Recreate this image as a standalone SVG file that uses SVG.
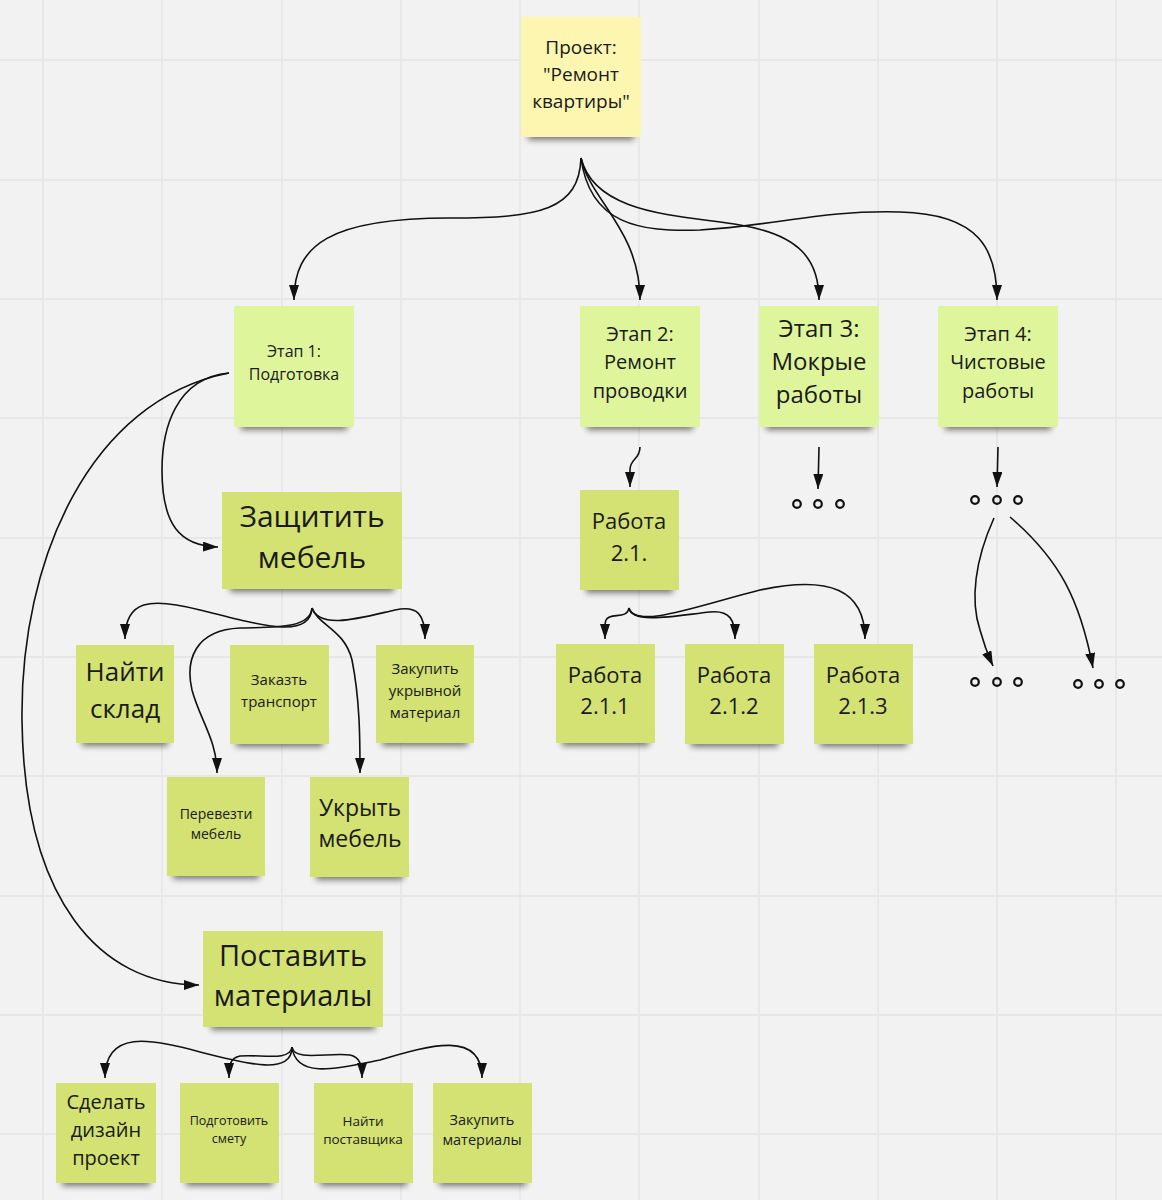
<svg xmlns="http://www.w3.org/2000/svg" width="1162" height="1200" viewBox="0 0 1162 1200">
<defs>
<style>
.bg{fill:#f2f2f2}
.grid{stroke:#e7e7e7;stroke-width:1.8;fill:none}
.c{fill:none;stroke:#111;stroke-width:1.6}
.y{fill:#fcf6b1}
.s{fill:#dff59c}
.t{fill:#d3e272}
.sh{fill:#000;opacity:.5;filter:url(#blur)}
text{font-family:"Open Sans","Noto Sans","Liberation Sans",sans-serif;fill:#1a1a1a;text-anchor:middle}
.dot{fill:none;stroke:#111;stroke-width:2.2}
</style>
<filter id="blur" x="-20%" y="-100%" width="140%" height="300%"><feGaussianBlur stdDeviation="3"/></filter>
<marker id="ah" markerUnits="userSpaceOnUse" markerWidth="16" markerHeight="12" refX="15" refY="5" orient="auto"><path d="M0,0 L15,5 L0,10 z" fill="#111"/></marker>
</defs>
<rect class="bg" x="0" y="0" width="1162" height="1200"/>
<path class="grid" d="M43,0V1200M162,0V1200M282,0V1200M401,0V1200M520,0V1200M639,0V1200M759,0V1200M878,0V1200M997,0V1200M1116,0V1200M0,60H1162M0,180H1162M0,299H1162M0,418H1162M0,538H1162M0,657H1162M0,776H1162M0,896H1162M0,1015H1162M0,1134H1162"/>

<g id="connectors">
<path class="c" marker-end="url(#ah)" d="M581,158 C579,210 540,218 450,218 C330,218 294,245 294,300"/>
<path class="c" marker-end="url(#ah)" d="M581,158 C590,200 640,230 640,300"/>
<path class="c" marker-end="url(#ah)" d="M581,158 C595,215 680,215 740,225 C800,235 819,260 819,300"/>
<path class="c" marker-end="url(#ah)" d="M581,158 C590,225 640,232 700,230 C780,225 820,210 900,212 C980,214 997,250 997,300"/>
<path class="c" marker-end="url(#ah)" d="M229,373 C175,378 162,430 162,470 C162,525 180,546 218,547"/>
<path class="c" marker-end="url(#ah)" d="M229,373 C90,400 20,560 22,720 C24,900 100,985 199,985"/>
<path class="c" marker-end="url(#ah)" d="M312,608 C310,640 260,625 200,610 C150,597 125,600 125,639"/>
<path class="c" marker-end="url(#ah)" d="M312,608 C310,630 270,627 240,628 C195,630 185,660 192,690 C200,720 217,740 217,773"/>
<path class="c" marker-end="url(#ah)" d="M312,608 C318,625 345,630 352,660 C360,700 360,740 360,773"/>
<path class="c" marker-end="url(#ah)" d="M312,608 C320,630 360,618 395,610 C418,605 425,615 425,639"/>
<path class="c" marker-end="url(#ah)" d="M292,1047 C292,1075 250,1065 200,1052 C150,1038 105,1030 105,1078"/>
<path class="c" marker-end="url(#ah)" d="M292,1047 C290,1062 260,1054 240,1056 C230,1058 229,1065 229,1078"/>
<path class="c" marker-end="url(#ah)" d="M292,1047 C294,1062 330,1052 350,1055 C360,1057 362,1065 362,1078"/>
<path class="c" marker-end="url(#ah)" d="M292,1047 C296,1080 340,1068 380,1060 C430,1045 482,1030 482,1078"/>
<path class="c" marker-end="url(#ah)" d="M640,447 C640,460 630,458 630,470 L630,487"/>
<path class="c" marker-end="url(#ah)" d="M629,608 C627,620 610,612 606,620 C604,625 605,630 605,639"/>
<path class="c" marker-end="url(#ah)" d="M629,608 C632,625 680,615 710,612 C730,610 735,620 735,639"/>
<path class="c" marker-end="url(#ah)" d="M629,608 C635,630 700,605 760,590 C830,575 865,590 865,639"/>
<path class="c" marker-end="url(#ah)" d="M819,447 L818,489"/>
<path class="c" marker-end="url(#ah)" d="M998,447 L997,487"/>
<path class="c" marker-end="url(#ah)" d="M994,518 C975,560 970,600 980,630 C984,645 988,655 993,666"/>
<path class="c" marker-end="url(#ah)" d="M1010,517 C1060,560 1080,600 1093,668"/>
</g>

<g id="dots3"><circle class="dot" cx="797" cy="504" r="3.8"/><circle class="dot" cx="818" cy="504" r="3.8"/><circle class="dot" cx="840" cy="504" r="3.8"/></g>
<g id="dots4"><circle class="dot" cx="975" cy="500" r="3.8"/><circle class="dot" cx="997" cy="500" r="3.8"/><circle class="dot" cx="1018" cy="500" r="3.8"/></g>
<g id="dots4a"><circle class="dot" cx="975" cy="682" r="3.8"/><circle class="dot" cx="997" cy="682" r="3.8"/><circle class="dot" cx="1018" cy="682" r="3.8"/></g>
<g id="dots4b"><circle class="dot" cx="1078" cy="684" r="3.8"/><circle class="dot" cx="1099" cy="684" r="3.8"/><circle class="dot" cx="1120" cy="684" r="3.8"/></g>

<g id="root"><rect class="sh" x="528" y="128" width="106" height="12"/><rect class="y" x="521" y="17" width="120" height="120"/>
<text font-size="19"><tspan x="581" y="54">Проект:</tspan><tspan x="581" y="81">"Ремонт</tspan><tspan x="581" y="108">квартиры"</tspan></text></g>

<g id="stage1"><rect class="sh" x="241" y="418" width="106" height="12"/><rect class="s" x="234" y="306" width="120" height="121"/>
<text font-size="16"><tspan x="294" y="357">Этап 1:</tspan><tspan x="294" y="380">Подготовка</tspan></text></g>
<g id="stage2"><rect class="sh" x="587" y="418" width="106" height="12"/><rect class="s" x="580" y="306" width="120" height="121"/>
<text font-size="20"><tspan x="640" y="341">Этап 2:</tspan><tspan x="640" y="369">Ремонт</tspan><tspan x="640" y="398">проводки</tspan></text></g>
<g id="stage3"><rect class="sh" x="766" y="418" width="106" height="12"/><rect class="s" x="759" y="306" width="120" height="121"/>
<text font-size="24"><tspan x="819" y="337">Этап 3:</tspan><tspan x="819" y="370">Мокрые</tspan><tspan x="819" y="403">работы</tspan></text></g>
<g id="stage4"><rect class="sh" x="945" y="418" width="106" height="12"/><rect class="s" x="938" y="306" width="120" height="121"/>
<text font-size="20"><tspan x="998" y="341">Этап 4:</tspan><tspan x="998" y="369">Чистовые</tspan><tspan x="998" y="398">работы</tspan></text></g>

<g id="protect"><rect class="sh" x="230" y="580" width="164" height="12"/><rect class="t" x="222" y="492" width="180" height="97"/>
<text font-size="30"><tspan x="312" y="527">Защитить</tspan><tspan x="312" y="568">мебель</tspan></text></g>
<g id="find-storage"><rect class="sh" x="82" y="734" width="86" height="12"/><rect class="t" x="76" y="645" width="98" height="98"/>
<text font-size="26"><tspan x="125" y="681">Найти</tspan><tspan x="125" y="718">склад</tspan></text></g>
<g id="order-transport"><rect class="sh" x="236" y="735" width="87" height="12"/><rect class="t" x="230" y="645" width="99" height="99"/>
<text font-size="15"><tspan x="279" y="685">Заказть</tspan><tspan x="279" y="707">транспорт</tspan></text></g>
<g id="buy-cover"><rect class="sh" x="382" y="734" width="86" height="12"/><rect class="t" x="376" y="645" width="98" height="98"/>
<text font-size="15"><tspan x="425" y="674">Закупить</tspan><tspan x="425" y="696">укрывной</tspan><tspan x="425" y="718">материал</tspan></text></g>
<g id="move-furniture"><rect class="sh" x="173" y="867" width="86" height="12"/><rect class="t" x="167" y="777" width="98" height="99"/>
<text font-size="14"><tspan x="216" y="819">Перевезти</tspan><tspan x="216" y="839">мебель</tspan></text></g>
<g id="cover-furniture"><rect class="sh" x="316" y="868" width="87" height="12"/><rect class="t" x="310" y="777" width="99" height="100"/>
<text font-size="23"><tspan x="360" y="816">Укрыть</tspan><tspan x="360" y="847">мебель</tspan></text></g>

<g id="supply"><rect class="sh" x="211" y="1018" width="164" height="12"/><rect class="t" x="203" y="931" width="180" height="96"/>
<text font-size="29"><tspan x="293" y="966">Поставить</tspan><tspan x="293" y="1006">материалы</tspan></text></g>
<g id="design"><rect class="sh" x="62" y="1174" width="88" height="12"/><rect class="t" x="56" y="1083" width="100" height="100"/>
<text font-size="20"><tspan x="106" y="1109">Сделать</tspan><tspan x="106" y="1137">дизайн</tspan><tspan x="106" y="1165">проект</tspan></text></g>
<g id="estimate"><rect class="sh" x="186" y="1174" width="87" height="12"/><rect class="t" x="180" y="1083" width="99" height="100"/>
<text font-size="12.5"><tspan x="229" y="1125">Подготовить</tspan><tspan x="229" y="1143">смету</tspan></text></g>
<g id="supplier"><rect class="sh" x="320" y="1174" width="87" height="12"/><rect class="t" x="314" y="1083" width="99" height="100"/>
<text font-size="13.5"><tspan x="363" y="1126">Найти</tspan><tspan x="363" y="1144">поставщика</tspan></text></g>
<g id="buy-materials"><rect class="sh" x="439" y="1174" width="87" height="12"/><rect class="t" x="433" y="1083" width="99" height="100"/>
<text font-size="14.5"><tspan x="482" y="1125">Закупить</tspan><tspan x="482" y="1145">материалы</tspan></text></g>

<g id="work21"><rect class="sh" x="586" y="581" width="87" height="12"/><rect class="t" x="580" y="490" width="99" height="100"/>
<text font-size="22"><tspan x="629" y="529">Работа</tspan><tspan x="629" y="561">2.1.</tspan></text></g>
<g id="work211"><rect class="sh" x="562" y="734" width="87" height="12"/><rect class="t" x="556" y="644" width="99" height="99"/>
<text font-size="22"><tspan x="605" y="683">Работа</tspan><tspan x="605" y="714">2.1.1</tspan></text></g>
<g id="work212"><rect class="sh" x="691" y="735" width="87" height="12"/><rect class="t" x="685" y="644" width="99" height="100"/>
<text font-size="22"><tspan x="734" y="683">Работа</tspan><tspan x="734" y="714">2.1.2</tspan></text></g>
<g id="work213"><rect class="sh" x="820" y="735" width="87" height="12"/><rect class="t" x="814" y="644" width="99" height="100"/>
<text font-size="22"><tspan x="863" y="683">Работа</tspan><tspan x="863" y="714">2.1.3</tspan></text></g>
</svg>
